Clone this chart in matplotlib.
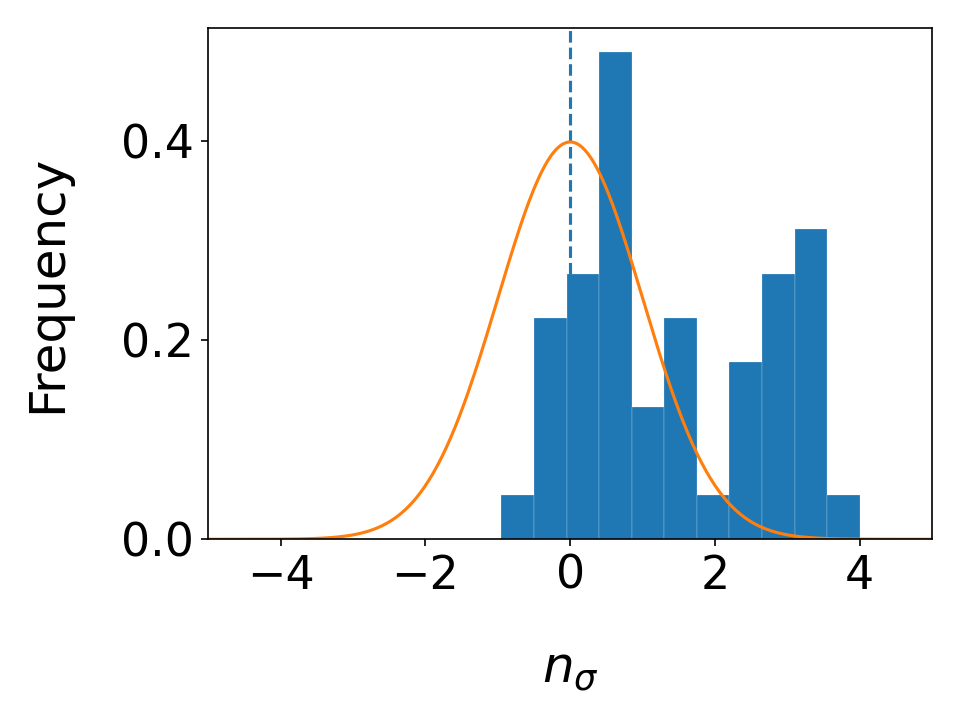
import numpy as np
import matplotlib.pyplot as plt

# histogram: bin edges and counts (50 samples, density-normalised)
bin_edges = [-0.95, -0.50, -0.05, 0.40, 0.85, 1.30, 1.75, 2.20, 2.65, 3.10, 3.55, 4.00]
counts = [1, 5, 6, 11, 3, 5, 1, 4, 6, 7, 1]

# reference normal curve
mu = 0.0
sigma = 1.0

tick_fs = 22
label_fs = 24

fig, ax = plt.subplots(figsize=(6.4, 4.8), dpi=150)
ax.axvline(mu, color="C0", ls="--", lw=1.5)
ax.hist(bin_edges[:-1], bins=bin_edges, weights=counts, density=True,
        color="C0", edgecolor="white", linewidth=0.1)

x = np.linspace(-5, 5, 500)
pdf = np.exp(-0.5 * ((x - mu) / sigma) ** 2) / (sigma * np.sqrt(2 * np.pi))
ax.plot(x, pdf, color="C1", lw=1.5)

ax.set_xlim(-5, 5)
ax.set_xlabel(r"$n_\sigma$", fontsize=label_fs, labelpad=22)
ax.set_ylabel("Frequency", fontsize=label_fs, labelpad=24)
ax.tick_params(labelsize=tick_fs)

plt.subplots_adjust(left=0.217, right=0.971, top=0.961, bottom=0.251)
plt.savefig("out.png")
